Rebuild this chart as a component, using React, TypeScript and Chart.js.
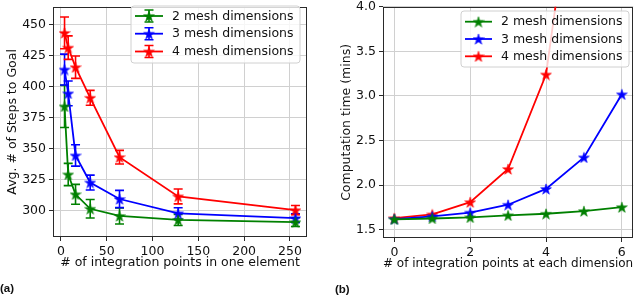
import React, { useEffect, useRef } from "react";
import { Chart, registerables } from "chart.js";

Chart.register(...registerables);

const FONT = "'DejaVu Sans', 'Liberation Sans', sans-serif";
const FSIZE = 12.5;

// ---- Panel (a): steps to goal vs integration points ----
const pointsA = [4, 8, 16, 32, 64, 128, 256];
const steps2 = [384, 329, 313, 301.3, 295.5, 292.3, 290.5];
const steps2Err = [17, 9, 8, 7.5, 6.5, 4.5, 3.5];
const steps3 = [413.8, 394.5, 344.4, 322.5, 309.2, 297.6, 293.7];
const steps3Err = [12.5, 10, 8.6, 6, 7, 4.5, 3.5];
const steps4 = [443.4, 431.5, 415.7, 391, 343, 311.3, 300.2];
const steps4Err = [12.8, 9.5, 9, 6, 5.5, 6, 3.7];
const xTicksA = [0, 50, 100, 150, 200, 250];
const yTicksA = [300, 325, 350, 375, 400, 425, 450];

// ---- Panel (b): computation time vs integration points per dimension ----
const pointsB = [0, 1, 2, 3, 4, 5, 6];
const time2 = [1.615, 1.625, 1.637, 1.66, 1.678, 1.708, 1.752];
const time3 = [1.618, 1.648, 1.69, 1.779, 1.957, 2.31, 3.018];
const time4 = [1.628, 1.67, 1.808, 2.18, 3.24, 6.3, null];
const xTicksB = [0, 2, 4, 6];
const yTicksB = [1.5, 2.0, 2.5, 3.0, 3.5, 4.0];

const seriesLabels = ["2 mesh dimensions", "3 mesh dimensions", "4 mesh dimensions"];
const seriesColors = ["#008000", "#0000ff", "#ff0000"];

function makeStar(color: string, size: number) {
  const c = document.createElement("canvas");
  c.width = size;
  c.height = size;
  const ctx = c.getContext("2d")!;
  const cx = size / 2;
  const cy = size / 2 + 0.6;
  const R = size / 2 - 0.3;
  const r = R * 0.382;
  ctx.beginPath();
  for (let i = 0; i < 10; i++) {
    const a = -Math.PI / 2 + (i * Math.PI) / 5;
    const rad = i % 2 === 0 ? R : r;
    const x = cx + rad * Math.cos(a);
    const y = cy + rad * Math.sin(a);
    if (i === 0) ctx.moveTo(x, y);
    else ctx.lineTo(x, y);
  }
  ctx.closePath();
  ctx.fillStyle = color;
  ctx.fill();
  ctx.strokeStyle = color;
  ctx.lineWidth = 0.6;
  ctx.stroke();
  return c;
}

function framePlugin() {
  return {
    id: "frame",
    beforeDatasetsDraw(chart: any) {
      const { ctx, chartArea: a } = chart;
      ctx.save();
      ctx.strokeStyle = "#2a2a2a";
      ctx.lineWidth = 1;
      ctx.strokeRect(Math.round(a.left) + 0.5, Math.round(a.top) + 0.5, Math.round(a.right - a.left) - 1, Math.round(a.bottom - a.top) - 1);
      ctx.restore();
    },
  };
}

function errorBarPlugin(xs: number[], ys: number[][], errs: number[][]) {
  return {
    id: "errbars",
    beforeDatasetsDraw(chart: any) {
      const { ctx, chartArea: a } = chart;
      const xs_ = chart.scales.x;
      const ys_ = chart.scales.y;
      ctx.save();
      ctx.beginPath();
      ctx.rect(a.left, a.top, a.right - a.left, a.bottom - a.top);
      ctx.clip();
      ctx.lineWidth = 1.6;
      ys.forEach((vals, si) => {
        ctx.strokeStyle = seriesColors[si];
        vals.forEach((v, j) => {
          const px = xs_.getPixelForValue(xs[j]);
          const top = ys_.getPixelForValue(v + errs[si][j]);
          const bot = ys_.getPixelForValue(v - errs[si][j]);
          ctx.beginPath();
          ctx.moveTo(px, top);
          ctx.lineTo(px, bot);
          ctx.moveTo(px - 4.5, top);
          ctx.lineTo(px + 4.5, top);
          ctx.moveTo(px - 4.5, bot);
          ctx.lineTo(px + 4.5, bot);
          ctx.stroke();
        });
      });
      ctx.restore();
    },
  };
}

function legendPlugin(box: { x: number; y: number; w: number; h: number }, rows: number[], hx0: number, hx1: number, tx: number, withErr: boolean, stars: HTMLCanvasElement[]) {
  return {
    id: "customLegend",
    afterDatasetsDraw(chart: any) {
      const { ctx } = chart;
      ctx.save();
      const r = 3;
      const { x, y, w, h } = box;
      ctx.beginPath();
      ctx.moveTo(x + r, y);
      ctx.lineTo(x + w - r, y);
      ctx.quadraticCurveTo(x + w, y, x + w, y + r);
      ctx.lineTo(x + w, y + h - r);
      ctx.quadraticCurveTo(x + w, y + h, x + w - r, y + h);
      ctx.lineTo(x + r, y + h);
      ctx.quadraticCurveTo(x, y + h, x, y + h - r);
      ctx.lineTo(x, y + r);
      ctx.quadraticCurveTo(x, y, x + r, y);
      ctx.closePath();
      ctx.fillStyle = "rgba(255,255,255,0.8)";
      ctx.fill();
      ctx.strokeStyle = "#d0d0d0";
      ctx.lineWidth = 1;
      ctx.stroke();
      ctx.font = `${FSIZE}px ${FONT}`;
      ctx.textBaseline = "middle";
      ctx.textAlign = "left";
      seriesLabels.forEach((label, i) => {
        const ry = rows[i];
        const cx = (hx0 + hx1) / 2;
        ctx.strokeStyle = seriesColors[i];
        ctx.lineWidth = 1.8;
        ctx.beginPath();
        ctx.moveTo(hx0, ry);
        ctx.lineTo(hx1, ry);
        ctx.stroke();
        if (withErr) {
          ctx.lineWidth = 1.6;
          ctx.beginPath();
          ctx.moveTo(cx, ry - 6);
          ctx.lineTo(cx, ry + 6);
          ctx.moveTo(cx - 4.5, ry - 6);
          ctx.lineTo(cx + 4.5, ry - 6);
          ctx.moveTo(cx - 4.5, ry + 6);
          ctx.lineTo(cx + 4.5, ry + 6);
          ctx.stroke();
        }
        const s = stars[i];
        ctx.drawImage(s, cx - s.width / 2, ry - s.height / 2);
        ctx.fillStyle = "#111111";
        ctx.fillText(label, tx, ry + 0.5);
      });
      ctx.restore();
    },
  };
}

function axisCommon(ticks: number[], fmt: (v: number) => string, title: string, isX: boolean, size: number, min: number, max: number) {
  return {
    type: "linear",
    min,
    max,
    afterBuildTicks: (scale: any) => {
      scale.ticks = ticks.map((v) => ({ value: v }));
    },
    afterFit: (scale: any) => {
      if (isX) scale.height = size;
      else scale.width = size;
      scale.paddingTop = 0;
      scale.paddingBottom = 0;
      scale.paddingLeft = 0;
      scale.paddingRight = 0;
    },
    grid: { color: "#d0d0d0", lineWidth: 1, tickColor: "#2a2a2a", tickLength: 4, drawTicks: true },
    border: { display: false },
    ticks: {
      color: "#111111",
      font: { family: FONT, size: FSIZE },
      padding: 3,
      maxRotation: 0,
      autoSkip: false,
      callback: (v: any) => fmt(Number(v)),
    },
    title: { display: true, text: title, color: "#111111", font: { family: FONT, size: FSIZE }, padding: { top: 4, bottom: 4 } },
  };
}

export default function App() {
  const refA = useRef<HTMLCanvasElement>(null);
  const refB = useRef<HTMLCanvasElement>(null);

  useEffect(() => {
    const stars = seriesColors.map((c) => makeStar(c, 12));
    const ysA = [steps2, steps3, steps4];
    const errsA = [steps2Err, steps3Err, steps4Err];
    const ysB = [time2, time3, time4];

    const chartA = new Chart(refA.current!, {
      type: "line",
      data: {
        datasets: ysA.map((vals, i) => ({
          label: seriesLabels[i],
          data: vals.map((v, j) => ({ x: pointsA[j], y: v })),
          borderColor: seriesColors[i],
          backgroundColor: seriesColors[i],
          borderWidth: 1.8,
          pointStyle: stars[i],
          pointRadius: 5,
          tension: 0,
          fill: false,
        })),
      },
      options: {
        animation: false,
        responsive: false,
        layout: { padding: { left: 1, top: 2, right: 13, bottom: 22 } },
        plugins: { legend: { display: false }, tooltip: { enabled: false } },
        scales: {
          x: axisCommon(xTicksA, (v) => String(v), "# of integration points in one element", true, 37, -8.6, 268.6) as any,
          y: axisCommon(yTicksA, (v) => String(v), "Avg. # of Steps to Goal", false, 52, 278.5, 464.5) as any,
        },
      },
      plugins: [
        framePlugin(),
        errorBarPlugin(pointsA, ysA, errsA),
        legendPlugin({ x: 131, y: 6, w: 169, h: 57 }, [16, 33.7, 51.5], 135, 163, 172, true, stars),
      ],
    } as any);

    const chartB = new Chart(refB.current!, {
      type: "line",
      data: {
        datasets: ysB.map((vals, i) => ({
          label: seriesLabels[i],
          data: vals.map((v, j) => ({ x: pointsB[j], y: v })),
          borderColor: seriesColors[i],
          backgroundColor: seriesColors[i],
          borderWidth: 1.8,
          pointStyle: stars[i],
          pointRadius: 5,
          tension: 0,
          fill: false,
        })),
      },
      options: {
        animation: false,
        responsive: false,
        layout: { padding: { left: 15, top: 5, right: 5, bottom: 21 } },
        plugins: { legend: { display: false }, tooltip: { enabled: false } },
        scales: {
          x: axisCommon(xTicksB, (v) => String(v), "# of integration points at each dimension", true, 37, -0.3, 6.3) as any,
          y: axisCommon(yTicksB, (v) => v.toFixed(1), "Computation time (mins)", false, 48, 1.406, 4.0) as any,
        },
      },
      plugins: [
        framePlugin(),
        legendPlugin({ x: 141, y: 11, w: 168, h: 56 }, [21.7, 39, 56.3], 145, 172, 181, false, stars),
      ],
    } as any);

    return () => {
      chartA.destroy();
      chartB.destroy();
    };
  }, []);

  return (
    <div style={{ position: "absolute", left: 0, top: 0, width: 640, height: 296, background: "#ffffff", overflow: "hidden" }}>
      <canvas ref={refA} width={320} height={296} style={{ position: "absolute", left: 0, top: 0 }} />
      <canvas ref={refB} width={320} height={296} style={{ position: "absolute", left: 320, top: 0 }} />
      <div style={{ position: "absolute", left: 0, top: 282, font: "bold 11.5px 'Liberation Sans', Arial, sans-serif", color: "#111" }}>(a)</div>
      <div style={{ position: "absolute", left: 335, top: 283, font: "bold 11.5px 'Liberation Sans', Arial, sans-serif", color: "#111" }}>(b)</div>
    </div>
  );
}
